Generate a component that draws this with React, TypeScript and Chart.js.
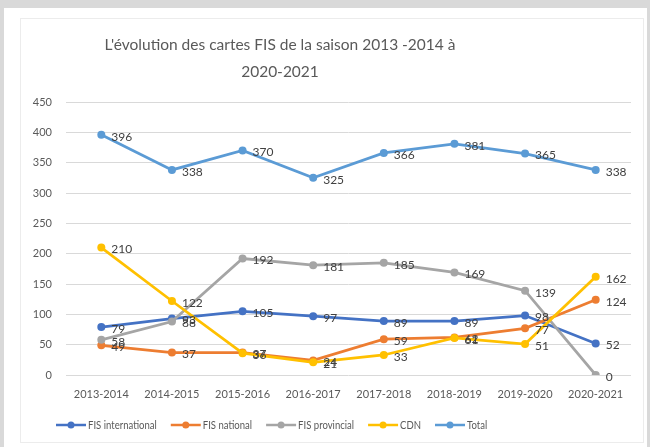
import React, { useEffect, useRef } from "react";
import { Chart, registerables } from "chart.js";

Chart.register(...registerables);

const seasons = [
  "2013-2014",
  "2014-2015",
  "2015-2016",
  "2016-2017",
  "2017-2018",
  "2018-2019",
  "2019-2020",
  "2020-2021",
];
const fisInternational = [79, 93, 105, 97, 89, 89, 98, 52];
const fisNational = [49, 37, 37, 24, 59, 62, 77, 124];
const fisProvincial = [58, 88, 192, 181, 185, 169, 139, 0];
const cdn = [210, 122, 36, 21, 33, 61, 51, 162];
const total = [396, 338, 370, 325, 366, 381, 365, 338];

const seriesNames = ["FIS international", "FIS national", "FIS provincial", "CDN", "Total"];
const seriesValues = [fisInternational, fisNational, fisProvincial, cdn, total];
const seriesColors = ["#4472C4", "#ED7D31", "#A5A5A5", "#FFC000", "#5B9BD5"];
const titleLines = ["L'évolution des cartes FIS de la saison 2013 -2014 à", "2020-2021"];
const yMin = 0;
const yMax = 450;
const yStep = 50;

const FONT = "Lato, 'Open Sans', sans-serif";

const overlayPlugin = {
  id: "overlay",
  afterDatasetsDraw(chart: any) {
    const ctx = chart.ctx;
    ctx.save();
    ctx.font = `12px ${FONT}`;
    ctx.fillStyle = "#404040";
    ctx.textAlign = "left";
    ctx.textBaseline = "middle";
    chart.data.datasets.forEach((ds: any, i: number) => {
      const meta = chart.getDatasetMeta(i);
      meta.data.forEach((pt: any, j: number) => {
        ctx.fillText(String(ds.data[j]), pt.x + 10, pt.y + 2);
      });
    });
    ctx.restore();
  },
  afterDraw(chart: any) {
    const ctx = chart.ctx;
    ctx.save();
    ctx.font = `15.5px ${FONT}`;
    ctx.fillStyle = "#595959";
    ctx.textAlign = "center";
    ctx.textBaseline = "middle";
    titleLines.forEach((line, k) => {
      ctx.fillText(line, 260, 27 + k * 27);
    });
    ctx.font = `11.5px ${FONT}`;
    ctx.textAlign = "left";
    ctx.textBaseline = "middle";
    const squeeze = 0.83;
    let x = 36;
    const y = 407;
    seriesNames.forEach((name, i) => {
      ctx.strokeStyle = seriesColors[i];
      ctx.lineWidth = 2.5;
      ctx.beginPath();
      ctx.moveTo(x, y);
      ctx.lineTo(x + 30, y);
      ctx.stroke();
      ctx.fillStyle = seriesColors[i];
      ctx.beginPath();
      ctx.arc(x + 15, y, 3.5, 0, Math.PI * 2);
      ctx.fill();
      ctx.fillStyle = "#595959";
      ctx.save();
      ctx.translate(x + 32, y);
      ctx.scale(squeeze, 1);
      ctx.fillText(name, 0, 0);
      ctx.restore();
      x += 32 + ctx.measureText(name).width * squeeze + 14;
    });
    ctx.restore();
  },
};

export default function App() {
  const ref = useRef<HTMLCanvasElement | null>(null);

  useEffect(() => {
    if (!ref.current) return;
    const chart = new Chart(ref.current, {
      type: "line",
      data: {
        labels: seasons,
        datasets: seriesNames.map((name, i) => ({
          label: name,
          data: seriesValues[i],
          borderColor: seriesColors[i],
          backgroundColor: seriesColors[i],
          borderWidth: 2.75,
          pointRadius: 4,
          pointHoverRadius: 4,
          pointBorderWidth: 0,
          tension: 0,
          order: seriesNames.length - i,
        })),
      },
      plugins: [overlayPlugin],
      options: {
        animation: false,
        responsive: false,
        maintainAspectRatio: false,
        layout: { padding: { left: 0, right: 12, top: 84, bottom: 41 } },
        plugins: {
          legend: { display: false },
          title: { display: false },
          tooltip: { enabled: false },
        },
        scales: {
          x: {
            offset: true,
            grid: { display: false, drawTicks: false },
            border: { display: false },
            ticks: {
              color: "#595959",
              font: { family: FONT, size: 11 },
              padding: 13,
              maxRotation: 0,
              autoSkip: false,
            },
            afterFit(scale: any) {
              scale.height = 26;
            },
          },
          y: {
            min: yMin,
            max: yMax,
            grid: { color: "#d9d9d9", lineWidth: 1, drawTicks: false },
            border: { display: false },
            ticks: {
              stepSize: yStep,
              color: "#595959",
              font: { family: FONT, size: 11 },
              padding: 14,
            },
            afterFit(scale: any) {
              scale.width = 46;
            },
          },
        },
      },
    });
    return () => chart.destroy();
  }, []);

  return (
    <div
      style={{
        position: "fixed",
        left: 0,
        top: 0,
        width: 650,
        height: 447,
        background: "#d9d9d9",
        overflow: "hidden",
      }}
    >
      <div
        style={{
          position: "absolute",
          left: 4,
          top: 8,
          width: 643,
          height: 439,
          background: "#ffffff",
        }}
      />
      <div
        style={{
          position: "absolute",
          left: 20,
          top: 18,
          width: 622,
          height: 423,
          border: "1px solid #ececec",
        }}
      />
      <canvas
        ref={ref}
        width={623}
        height={424}
        style={{ position: "absolute", left: 20, top: 18, width: 623, height: 424 }}
      />
    </div>
  );
}
